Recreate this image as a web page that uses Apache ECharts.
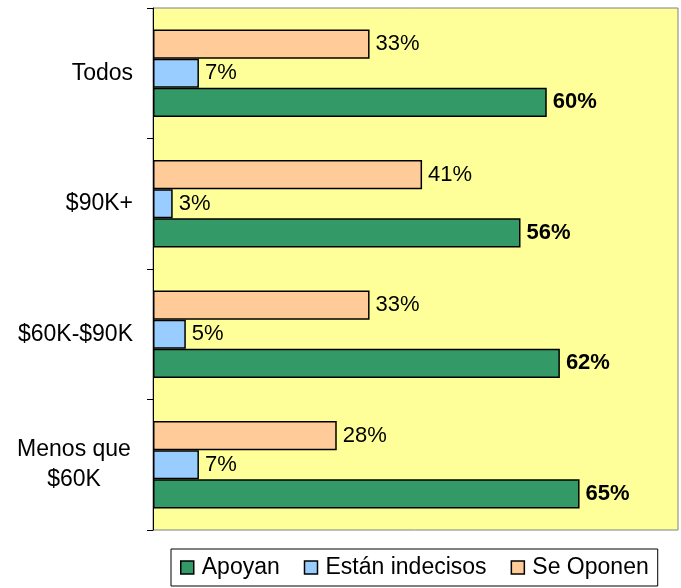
<!DOCTYPE html>
<html>
<head>
<meta charset="utf-8">
<script src="https://cdn.jsdelivr.net/npm/echarts@6/dist/echarts.min.js"></script>
<style>
    html, body { margin: 0; padding: 0; background: #ffffff; }
    #chart { width: 681px; height: 588px; }
</style>
</head>
<body>
<div id="chart"></div>
<script>
    // categorias (de arriba hacia abajo)
    var categories = ['Todos', '$90K+', '$60K-$90K', 'Menos que\n$60K'];
    var apoyan = [60, 56, 62, 65];
    var indecisos = [7, 3, 5, 7];
    var oponen = [33, 41, 33, 28];

    var chart = echarts.init(document.getElementById('chart'));

    function barSerie(name, data, color, bold) {
        return {
            name: name,
            type: 'bar',
            data: data,
            barGap: '0%',
            barCategoryGap: '33%',
            itemStyle: { color: color, borderColor: '#000', borderWidth: 1.5 },
            label: {
                show: true,
                position: 'right',
                distance: 6,
                formatter: '{c}%',
                color: '#000',
                fontSize: 22,
                fontWeight: bold ? 'bold' : 'normal',
                fontFamily: 'Liberation Sans'
            },
            emphasis: { disabled: true }
        };
    }

    chart.setOption({
        backgroundColor: '#ffffff',
        animation: false,
        grid: {
            left: 153, top: 8, right: 3, bottom: 58,
            show: true,
            backgroundColor: '#FFFF99',
            borderColor: '#808080',
            borderWidth: 1
        },
        legend: {
            bottom: 2,
            left: 171,
            data: ['Apoyan', 'Están indecisos', 'Se Oponen'],
            icon: 'rect',
            itemWidth: 13,
            itemHeight: 13,
            itemGap: 24,
            padding: [7, 9],
            borderColor: '#000',
            borderWidth: 1,
            itemStyle: { borderColor: '#000', borderWidth: 1.5 },
            textStyle: { fontSize: 23, color: '#000', fontFamily: 'Liberation Sans', padding: [0, 0, 0, 3] }
        },
        xAxis: {
            type: 'value',
            min: 0,
            max: 80,
            show: false,
            splitLine: { show: false }
        },
        yAxis: {
            type: 'category',
            data: categories,
            inverse: true,
            axisLine: { lineStyle: { color: '#000', width: 1 } },
            axisTick: { show: true, length: 6, lineStyle: { color: '#000' } },
            axisLabel: {
                color: '#000',
                fontSize: 23,
                fontFamily: 'Liberation Sans',
                margin: 20,
                align: 'right',
                lineHeight: 30,
                formatter: function (v) {
                    if (v.indexOf('\n') < 0) return v;
                    return v.split('\n').map(function (s) { return '{c|' + s + '}'; }).join('\n');
                },
                rich: {
                    c: { width: 118, align: 'center', fontSize: 23, fontFamily: 'Liberation Sans', lineHeight: 30, color: '#000' }
                }
            }
        },
        series: [
            barSerie('Se Oponen', oponen, '#FFCC99', false),
            barSerie('Están indecisos', indecisos, '#99CCFF', false),
            barSerie('Apoyan', apoyan, '#339966', true)
        ]
    });
</script>
</body>
</html>
